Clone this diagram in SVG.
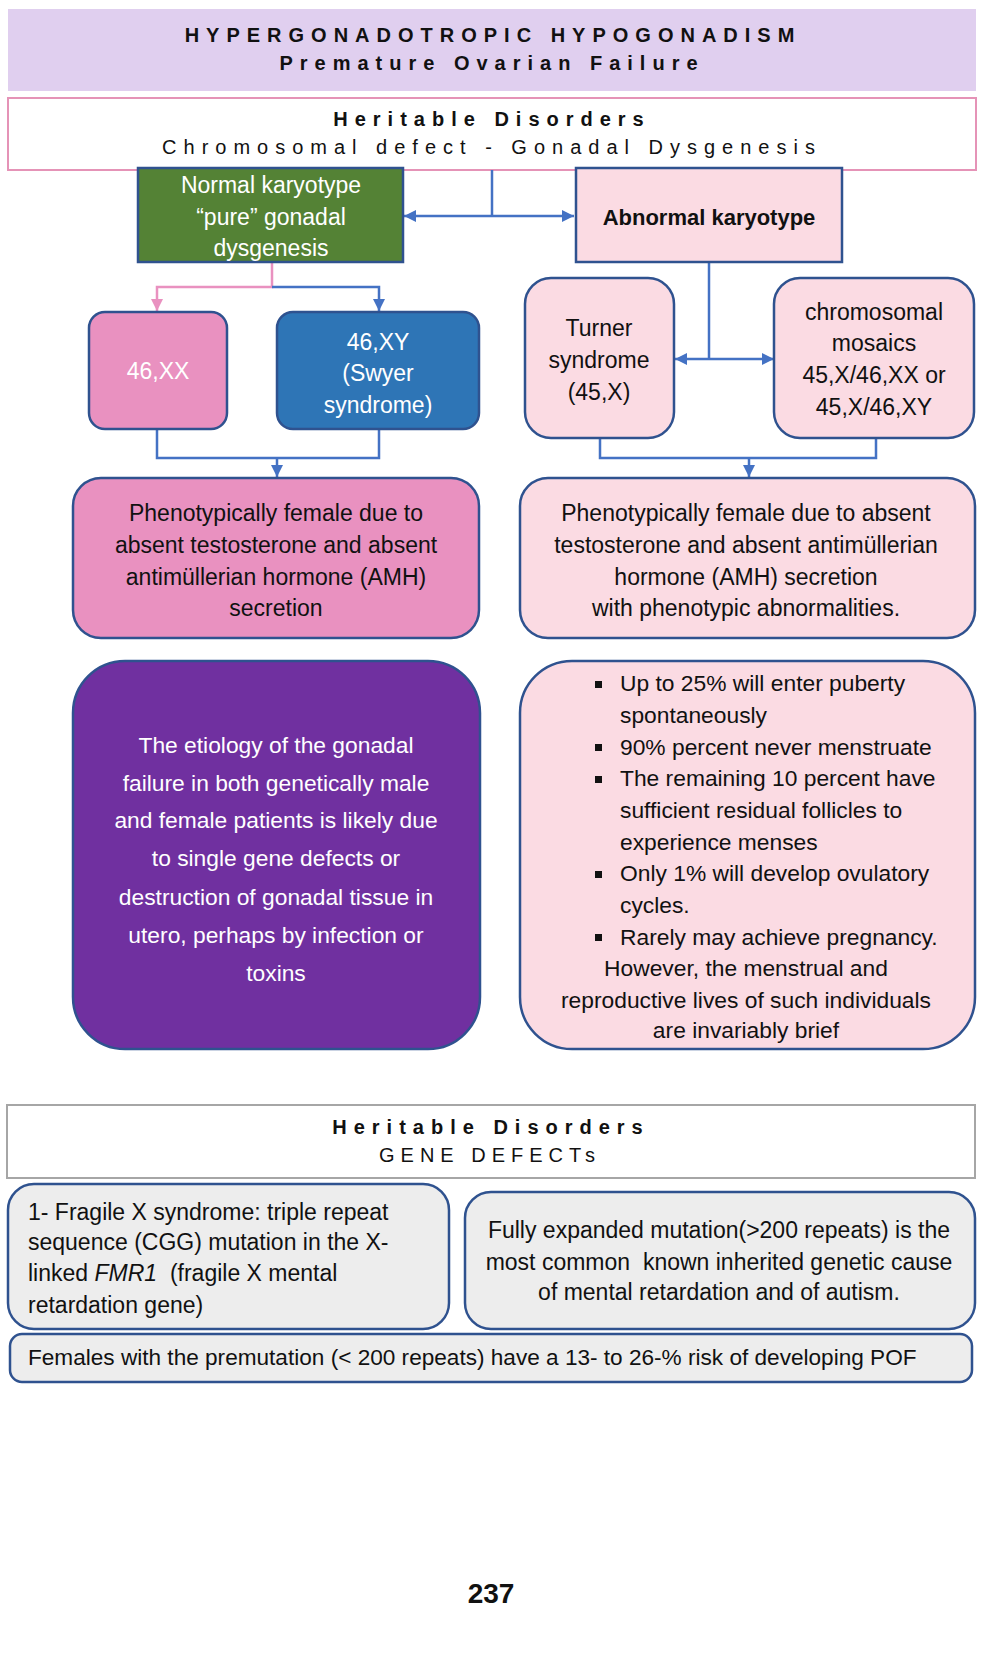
<svg xmlns="http://www.w3.org/2000/svg" width="992" height="1653" viewBox="0 0 992 1653">
<style>
.t{font-family:"Liberation Sans",Arial,sans-serif;font-size:23px;fill:#111}
.w{fill:#fff}
.c{text-anchor:middle}
.bd{font-weight:bold}
.hd{font-family:"Liberation Sans",Arial,sans-serif;font-size:20px;letter-spacing:7px;text-anchor:middle;fill:#111}
.box{stroke:#2f528f;stroke-width:2.5}
.conn{fill:none;stroke:#4472c4;stroke-width:2.5}
.pink{fill:none;stroke:#e991c0;stroke-width:2.5}
.pk{fill:#fbdbe3}
</style>
<defs>
<marker id="ab" viewBox="0 0 10 10" refX="10" refY="5" markerWidth="12" markerHeight="12" markerUnits="userSpaceOnUse" orient="auto-start-reverse"><path d="M0,0 L10,5 L0,10 z" fill="#4472c4"/></marker>
<marker id="ap" viewBox="0 0 10 10" refX="10" refY="5" markerWidth="12" markerHeight="12" markerUnits="userSpaceOnUse" orient="auto-start-reverse"><path d="M0,0 L10,5 L0,10 z" fill="#e991c0"/></marker>
</defs>
<rect width="992" height="1653" fill="#fff"/>

<g id="title">
<rect x="8" y="9" width="968" height="82" fill="#e0cfef"/>
<text class="hd bd" x="493" y="42">HYPERGONADOTROPIC HYPOGONADISM</text>
<text class="hd bd" x="492" y="70">Premature Ovarian Failure</text>
</g>

<g id="heritable-chromosomal">
<rect x="8" y="98" width="968" height="72" fill="#fff" stroke="#e593b7" stroke-width="2"/>
<text class="hd bd" x="492" y="126">Heritable Disorders</text>
<text class="hd" x="492" y="154">Chromosomal defect - Gonadal Dysgenesis</text>
</g>

<g id="connectors">
<path class="conn" d="M492,170 V216"/>
<path class="conn" d="M404,216 H574" marker-start="url(#ab)" marker-end="url(#ab)"/>
<path class="pink" d="M272,263 V287 H157 V311" marker-end="url(#ap)"/>
<path class="conn" d="M272,287 H379 V311" marker-end="url(#ab)"/>
<path class="conn" d="M709,262 V359"/>
<path class="conn" d="M675,359 H774" marker-start="url(#ab)" marker-end="url(#ab)"/>
<path class="conn" d="M157,429 V458 H379 V429"/>
<path class="conn" d="M277,458 V477" marker-end="url(#ab)"/>
<path class="conn" d="M600,438 V458 H876 V438"/>
<path class="conn" d="M749,458 V477" marker-end="url(#ab)"/>
</g>

<g id="normal-karyotype">
<rect class="box" x="138" y="168" width="265" height="94" fill="#548235"/>
<text class="t w c" x="271" y="193">Normal karyotype</text>
<text class="t w c" x="271" y="225">“pure” gonadal</text>
<text class="t w c" x="271" y="256">dysgenesis</text>
</g>

<g id="abnormal-karyotype">
<rect class="box pk" x="576" y="168" width="266" height="94"/>
<text class="t c bd" x="709" y="225" style="font-size:22px">Abnormal karyotype</text>
</g>

<g id="xx">
<rect class="box" x="89" y="312" width="138" height="117" rx="16" fill="#e991c0"/>
<text class="t w c" x="158" y="379">46,XX</text>
</g>

<g id="xy">
<rect class="box" x="277" y="312" width="202" height="117" rx="16" fill="#2e75b6"/>
<text class="t w c" x="378" y="350">46,XY</text>
<text class="t w c" x="378" y="381">(Swyer</text>
<text class="t w c" x="378" y="413">syndrome)</text>
</g>

<g id="turner">
<rect class="box pk" x="525" y="278" width="149" height="160" rx="26"/>
<text class="t c" x="599" y="336">Turner</text>
<text class="t c" x="599" y="368">syndrome</text>
<text class="t c" x="599" y="400">(45,X)</text>
</g>

<g id="mosaics">
<rect class="box pk" x="774" y="278" width="200" height="160" rx="26"/>
<text class="t c" x="874" y="320">chromosomal</text>
<text class="t c" x="874" y="351">mosaics</text>
<text class="t c" x="874" y="383">45,X/46,XX or</text>
<text class="t c" x="874" y="415">45,X/46,XY</text>
</g>

<g id="pheno-left">
<rect class="box" x="73" y="478" width="406" height="160" rx="28" fill="#e991c0"/>
<text class="t c" x="276" y="521">Phenotypically female due to</text>
<text class="t c" x="276" y="553">absent testosterone and absent</text>
<text class="t c" x="276" y="585">antimüllerian hormone (AMH)</text>
<text class="t c" x="276" y="616">secretion</text>
</g>

<g id="pheno-right">
<rect class="box pk" x="520" y="478" width="455" height="160" rx="28"/>
<text class="t c" x="746" y="521">Phenotypically female due to absent</text>
<text class="t c" x="746" y="553">testosterone and absent antimüllerian</text>
<text class="t c" x="746" y="585">hormone (AMH) secretion</text>
<text class="t c" x="746" y="616">with phenotypic abnormalities.</text>
</g>

<g id="etiology">
<rect class="box" x="73" y="661" width="407" height="388" rx="52" fill="#7030a0"/>
<g class="t w c" style="font-size:22.8px">
<text x="276" y="753">The etiology of the gonadal</text>
<text x="276" y="791">failure in both genetically male</text>
<text x="276" y="828">and female patients is likely due</text>
<text x="276" y="866">to single gene defects or</text>
<text x="276" y="905">destruction of gonadal tissue in</text>
<text x="276" y="943">utero, perhaps by infection or</text>
<text x="276" y="981">toxins</text>
</g>
</g>

<g id="turner-facts">
<rect class="box pk" x="520" y="661" width="455" height="388" rx="52"/>
<g fill="#111">
<rect x="595" y="681" width="7" height="7"/>
<rect x="595" y="744" width="7" height="7"/>
<rect x="595" y="776" width="7" height="7"/>
<rect x="595" y="871" width="7" height="7"/>
<rect x="595" y="934" width="7" height="7"/>
</g>
<g class="t" style="font-size:22.8px">
<text x="620" y="691">Up to 25% will enter puberty</text>
<text x="620" y="723">spontaneously</text>
<text x="620" y="755">90% percent never menstruate</text>
<text x="620" y="786">The remaining 10 percent have</text>
<text x="620" y="818">sufficient residual follicles to</text>
<text x="620" y="850">experience menses</text>
<text x="620" y="881">Only 1% will develop ovulatory</text>
<text x="620" y="913">cycles.</text>
<text x="620" y="945">Rarely may achieve pregnancy.</text>
<text class="c" x="746" y="976">However, the menstrual and</text>
<text class="c" x="746" y="1008">reproductive lives of such individuals</text>
<text class="c" x="746" y="1038">are invariably brief</text>
</g>
</g>

<g id="heritable-gene">
<rect x="7" y="1105" width="968" height="73" fill="#fff" stroke="#a6a6a6" stroke-width="2"/>
<text class="hd bd" x="491" y="1134">Heritable Disorders</text>
<text class="hd" x="490" y="1162" style="letter-spacing:6px">GENE DEFECTs</text>
</g>

<g id="fragile-x">
<rect class="box" x="8" y="1184" width="441" height="145" rx="26" fill="#ededed"/>
<text class="t" x="28" y="1220">1- Fragile X syndrome: triple repeat</text>
<text class="t" x="28" y="1250">sequence (CGG) mutation in the X-</text>
<text class="t" x="28" y="1281" style="white-space:pre">linked <tspan font-style="italic">FMR1</tspan>  (fragile X mental</text>
<text class="t" x="28" y="1313">retardation gene)</text>
</g>

<g id="fully-expanded">
<rect class="box" x="465" y="1192" width="510" height="137" rx="26" fill="#ededed"/>
<text class="t c" x="719" y="1238">Fully expanded mutation(&gt;200 repeats) is the</text>
<text class="t c" x="719" y="1270" style="white-space:pre">most common  known inherited genetic cause</text>
<text class="t c" x="719" y="1300">of mental retardation and of autism.</text>
</g>

<g id="premutation">
<rect class="box" x="10" y="1334" width="962" height="48" rx="12" fill="#ededed"/>
<text class="t" x="28" y="1365" style="font-size:22.6px">Females with the premutation (&lt; 200 repeats) have a 13- to 26-% risk of developing POF</text>
</g>

<text x="491" y="1603" font-family="'Liberation Sans',Arial,sans-serif" font-size="28" font-weight="bold" text-anchor="middle" fill="#111">237</text>
</svg>
